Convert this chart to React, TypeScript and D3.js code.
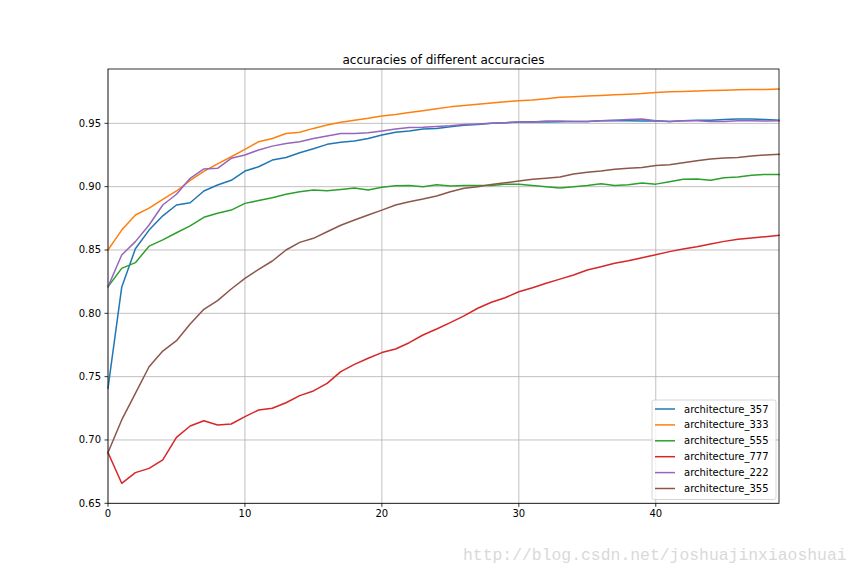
import React from "react";
import * as d3 from "d3";

const epochs: number[] = d3.range(50);

const arch357: number[] = [
  0.741, 0.8205, 0.851, 0.8657, 0.877, 0.8855, 0.8873, 0.8966, 0.9013, 0.905,
  0.9123, 0.9157, 0.921, 0.923, 0.9268, 0.930, 0.9334, 0.935, 0.936, 0.938,
  0.9408, 0.943, 0.944, 0.9455, 0.946, 0.9473, 0.9484, 0.949, 0.950, 0.9505,
  0.951, 0.9513, 0.951, 0.9513, 0.9515, 0.9515, 0.952, 0.9522, 0.952, 0.9518,
  0.952, 0.9515, 0.952, 0.9525, 0.9525, 0.953, 0.9535, 0.9535, 0.953, 0.9525,
];
const arch333: number[] = [
  0.850, 0.8657, 0.8776, 0.883, 0.890, 0.8966, 0.905, 0.912, 0.918, 0.9236,
  0.9295, 0.9355, 0.938, 0.942, 0.943, 0.946, 0.9487, 0.9508, 0.9525, 0.954,
  0.9558, 0.957, 0.9585, 0.960, 0.9615, 0.963, 0.964, 0.965, 0.966, 0.967,
  0.9678, 0.9685, 0.9695, 0.9705, 0.971, 0.9715, 0.972, 0.9725, 0.973, 0.9735,
  0.9744, 0.975, 0.9752, 0.9755, 0.976, 0.9762, 0.9765, 0.9767, 0.9768, 0.977,
];
const arch555: number[] = [
  0.821, 0.8355, 0.840, 0.853, 0.858, 0.8636, 0.869, 0.8758, 0.879, 0.8815,
  0.8868, 0.889, 0.8913, 0.894, 0.896, 0.8973, 0.8968, 0.8978, 0.899, 0.8973,
  0.8995, 0.9007, 0.901, 0.900, 0.9015, 0.9005, 0.901, 0.901, 0.901, 0.902,
  0.902, 0.901, 0.900, 0.899, 0.900, 0.901, 0.9023, 0.901, 0.9015, 0.9028,
  0.902, 0.9038, 0.9058, 0.906, 0.905, 0.907, 0.9076, 0.909, 0.9097, 0.9097,
];
const arch777: number[] = [
  0.690, 0.6658, 0.6742, 0.6776, 0.6842, 0.702, 0.711, 0.7152, 0.7118, 0.7126,
  0.7184, 0.7237, 0.725, 0.7294, 0.735, 0.7387, 0.7447, 0.754, 0.7597, 0.7645,
  0.769, 0.7718, 0.7768, 0.7829, 0.7876, 0.7926, 0.798, 0.804, 0.8087, 0.8123,
  0.817, 0.8202, 0.8237, 0.827, 0.8302, 0.8342, 0.8368, 0.8395, 0.8415, 0.8439,
  0.8463, 0.8487, 0.8508, 0.8526, 0.8547, 0.8568, 0.8584, 0.8594, 0.8605, 0.8616,
];
const arch222: number[] = [
  0.821, 0.846, 0.8566, 0.8697, 0.8855, 0.894, 0.9066, 0.914, 0.9145, 0.9224,
  0.925, 0.929, 0.932, 0.934, 0.9355, 0.938, 0.940, 0.942, 0.942, 0.9426,
  0.944, 0.9455, 0.9468, 0.947, 0.9475, 0.948, 0.949, 0.9495, 0.950, 0.9505,
  0.951, 0.951, 0.9518, 0.9518, 0.9515, 0.9515, 0.952, 0.9525, 0.953, 0.9535,
  0.952, 0.9515, 0.952, 0.952, 0.9515, 0.9515, 0.952, 0.952, 0.9518, 0.952,
];
const arch355: number[] = [
  0.690, 0.7158, 0.7368, 0.7578, 0.7702, 0.7784, 0.7915, 0.8032, 0.810, 0.8192,
  0.8276, 0.8347, 0.8413, 0.850, 0.856, 0.8592, 0.8644, 0.8695, 0.8737, 0.8776,
  0.8815, 0.8855, 0.8881, 0.8902, 0.8926, 0.896, 0.8987, 0.900, 0.9018, 0.9031,
  0.9044, 0.9058, 0.9066, 0.9076, 0.910, 0.9113, 0.9123, 0.9137, 0.9145, 0.9152,
  0.9168, 0.9173, 0.9189, 0.9205, 0.9218, 0.9226, 0.923, 0.9242, 0.925, 0.9255,
];

const seriesNames: string[] = [
  "architecture_357",
  "architecture_333",
  "architecture_555",
  "architecture_777",
  "architecture_222",
  "architecture_355",
];
const seriesValues: number[][] = [arch357, arch333, arch555, arch777, arch222, arch355];
const seriesColors: string[] = ["#1f77b4", "#ff7f0e", "#2ca02c", "#d62728", "#9467bd", "#8c564b"];

const xTicks: number[] = [0, 10, 20, 30, 40];
const yTicks: number[] = [0.65, 0.7, 0.75, 0.8, 0.85, 0.9, 0.95];

const titleText = "accuracies of different accuracies";
const watermark = "http://blog.csdn.net/joshuajinxiaoshuai";

export default function App() {
  const W = 864;
  const H = 576;
  const left = 108;
  const right = 779;
  const top = 69;
  const bottom = 503.3;

  const x = d3.scaleLinear().domain([0, 49]).range([left, right]);
  const y = d3.scaleLinear().domain([0.65, 0.9929]).range([bottom, top]);

  const line = d3
    .line<number>()
    .x((_, i) => x(epochs[i]))
    .y((d) => y(d));

  const font = "'DejaVu Sans', sans-serif";

  const legX = 652;
  const legY = 400;
  const legW = 124;
  const legRow = 15.9;
  const legH = 99.5;

  return (
    <svg
      width={W}
      height={H}
      style={{ position: "absolute", left: 0, top: 0, background: "#fff" }}
      fontFamily={font}
    >
      <rect x={0} y={0} width={W} height={H} fill="#fff" />
      {/* grid */}
      <g stroke="#b0b0b0" strokeWidth={0.8}>
        {xTicks.map((t) => (
          <line key={"gx" + t} x1={x(t)} x2={x(t)} y1={top} y2={bottom} />
        ))}
        {yTicks.map((t) => (
          <line key={"gy" + t} x1={left} x2={right} y1={y(t)} y2={y(t)} />
        ))}
      </g>
      {/* lines */}
      <g fill="none" strokeWidth={1.5} strokeLinejoin="round" strokeLinecap="square">
        {seriesValues.map((vals, k) => (
          <path key={seriesNames[k]} d={line(vals) || ""} stroke={seriesColors[k]} />
        ))}
      </g>
      {/* spines */}
      <rect x={left} y={top} width={right - left} height={bottom - top} fill="none" stroke="#000" strokeWidth={0.8} />
      {/* x ticks */}
      <g>
        {xTicks.map((t) => (
          <g key={"xt" + t}>
            <line x1={x(t)} x2={x(t)} y1={bottom} y2={bottom + 3.5} stroke="#000" strokeWidth={0.8} />
            <text x={x(t)} y={bottom + 14} fontSize={10} textAnchor="middle" fill="#000">
              {t}
            </text>
          </g>
        ))}
      </g>
      {/* y ticks */}
      <g>
        {yTicks.map((t) => (
          <g key={"yt" + t}>
            <line x1={left - 3.5} x2={left} y1={y(t)} y2={y(t)} stroke="#000" strokeWidth={0.8} />
            <text x={left - 7} y={y(t) + 3.5} fontSize={10} textAnchor="end" fill="#000">
              {t.toFixed(2)}
            </text>
          </g>
        ))}
      </g>
      {/* title */}
      <text x={(left + right) / 2} y={64} fontSize={12} textAnchor="middle" fill="#000">
        {titleText}
      </text>
      {/* legend */}
      <g>
        <rect
          x={legX}
          y={legY}
          width={legW}
          height={legH}
          rx={2}
          fill="#fff"
          fillOpacity={0.8}
          stroke="#cccccc"
          strokeWidth={0.8}
        />
        {seriesNames.map((name, k) => {
          const cy = legY + 9 + k * legRow;
          return (
            <g key={"leg" + name}>
              <line x1={legX + 3} x2={legX + 23} y1={cy} y2={cy} stroke={seriesColors[k]} strokeWidth={1.5} />
              <text x={legX + 32} y={cy + 3.5} fontSize={10} fill="#000">
                {name}
              </text>
            </g>
          );
        })}
      </g>
      {/* watermark */}
      <text x={463} y={560} fontSize={16.4} fontFamily="'Liberation Mono', monospace" fill="#d9d9d9">
        {watermark}
      </text>
    </svg>
  );
}
